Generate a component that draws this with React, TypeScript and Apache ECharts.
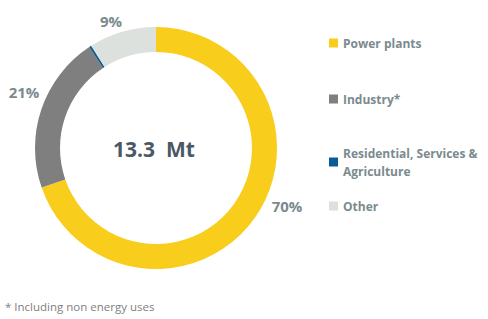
import React, { useEffect, useRef } from "react";
import * as echarts from "echarts";

const categories = ["Power plants", "Industry*", "Residential, Services & Agriculture", "Other"];
const shares = [69.7, 21.0, 0.3, 9.0];
const shareLabels = ["70%", "21%", "", "9%"];
const colors = ["#F9CD1B", "#7F7F7F", "#0B5C96", "#DDE1DE"];
const totalLabel = "13.3  Mt";
const footnote = "* Including non energy uses";

const FONT = "'Open Sans', 'Noto Sans', sans-serif";

export default function App() {
  const ref = useRef<HTMLDivElement>(null);
  useEffect(() => {
    if (!ref.current) return;
    const chart = echarts.init(ref.current, undefined, { renderer: "svg" });
    const labelPos: [number, number][] = [
      [287, 206],
      [24, 92],
      [0, 0],
      [111, 21],
    ];
    const legendTops = [34, 90, 135, 197];
    const legends = categories.map((name, i) => ({
      orient: "vertical" as const,
      left: 329,
      top: legendTops[i],
      padding: 0,
      data: [name],
      icon: "rect",
      itemWidth: 9,
      itemHeight: 9,
      selectedMode: false,
      formatter: (n: string) => (n === categories[2] ? "Residential, Services &\nAgriculture" : n),
      textStyle: {
        color: "#7B8A8E",
        fontFamily: FONT,
        fontWeight: "bold" as const,
        fontSize: 12,
        lineHeight: 18,
        padding: i === 2 ? [18, 0, 0, 0] : 0,
      },
    }));
    chart.setOption({
      animation: false,
      color: colors,
      title: [
        {
          text: totalLabel,
          left: 154,
          top: 149,
          padding: 0,
          textAlign: "center",
          textVerticalAlign: "middle",
          textStyle: { color: "#4B5964", fontFamily: FONT, fontWeight: "bold", fontSize: 21 },
        },
        {
          text: footnote,
          left: 5,
          top: 300,
          padding: 0,
          textStyle: { color: "#808080", fontFamily: FONT, fontWeight: "normal", fontSize: 11.5 },
        },
      ],
      legend: legends,
      series: [
        {
          type: "pie",
          center: [156, 148],
          radius: [96, 121],
          startAngle: 90,
          clockwise: true,
          avoidLabelOverlap: false,
          emphasis: { disabled: true },
          labelLine: { show: false },
          label: {
            show: true,
            position: "outside",
            overflow: "none",
            formatter: (p: any) => shareLabels[p.dataIndex],
            color: "#7B8A8E",
            fontFamily: FONT,
            fontWeight: "bold",
            fontSize: 15,
          },
          labelLayout: (p: any) => {
            const pos = labelPos[p.dataIndex];
            return { x: pos[0], y: pos[1], align: "center", verticalAlign: "middle" };
          },
          data: categories.map((name, i) => ({ name, value: shares[i] })),
        },
      ],
    });
    return () => chart.dispose();
  }, []);
  return (
    <div
      ref={ref}
      style={{ position: "fixed", left: 0, top: 0, width: 488, height: 319, background: "#fff" }}
    />
  );
}
